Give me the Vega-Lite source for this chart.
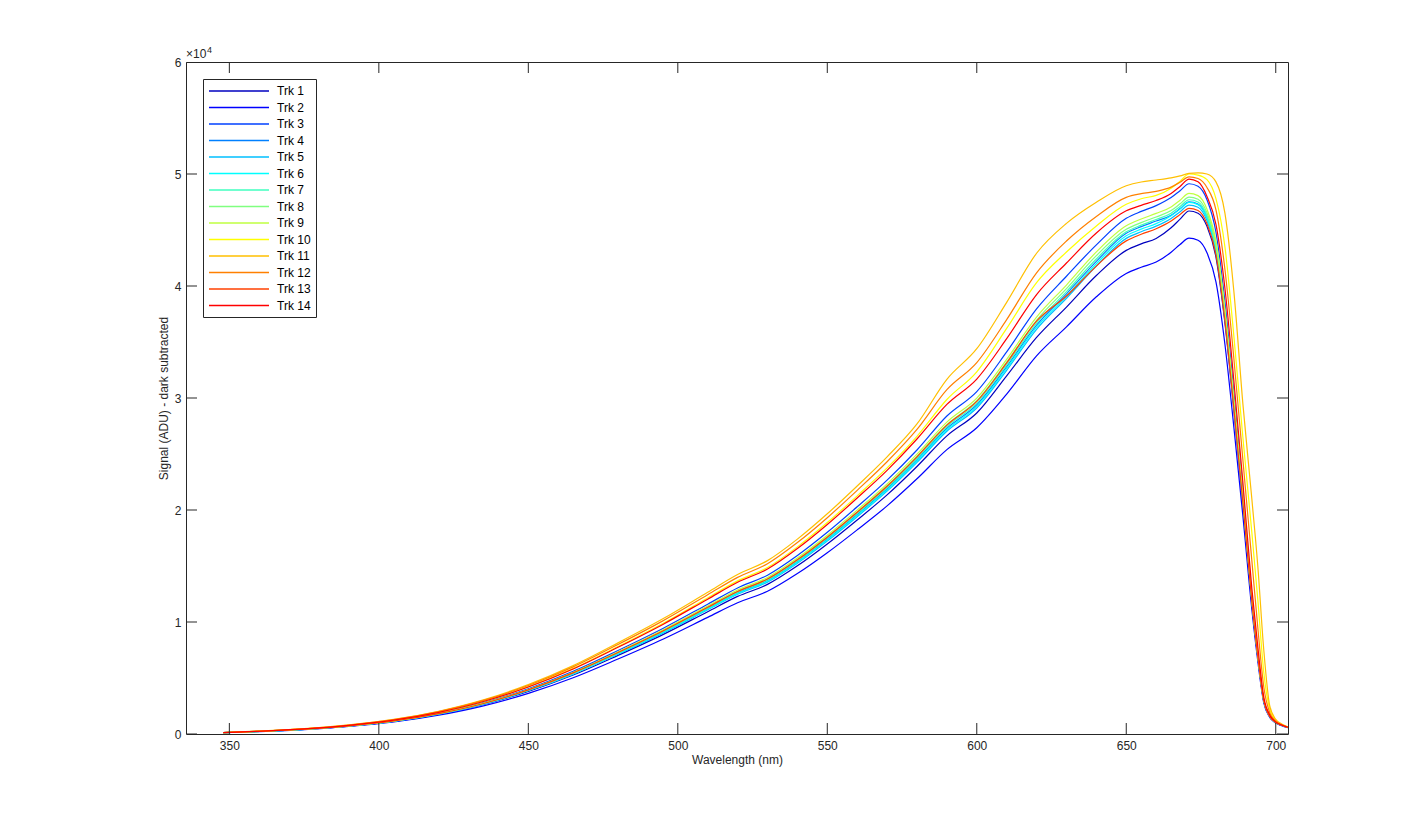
{
"$schema": "https://vega.github.io/schema/vega-lite/v6.json",
"width": 1102, "height": 672,
"autosize": {"type": "none"},
"padding": {"left": 186, "top": 62, "right": 137, "bottom": 91},
"background": "white",
"config": {
  "font": "Liberation Sans",
  "view": {"stroke": "#262626", "strokeWidth": 1},
  "axis": {"labelFont": "Liberation Sans", "titleFont": "Liberation Sans", "labelFontSize": 12, "titleFontSize": 12, "titleFontWeight": "normal", "labelColor": "#262626", "titleColor": "#262626", "grid": false, "domain": false, "ticks": false, "tickSize": 0}
},
"layer": [
{
"data": {"values": [
{"t":"Trk 1","w":348,"v":117},{"t":"Trk 1","w":360,"v":224},{"t":"Trk 1","w":375,"v":410},{"t":"Trk 1","w":390,"v":702},{"t":"Trk 1","w":405,"v":1121},{"t":"Trk 1","w":420,"v":1755},{"t":"Trk 1","w":435,"v":2633},{"t":"Trk 1","w":450,"v":3803},{"t":"Trk 1","w":465,"v":5265},{"t":"Trk 1","w":480,"v":7020},{"t":"Trk 1","w":495,"v":8873},{"t":"Trk 1","w":510,"v":10920},{"t":"Trk 1","w":520,"v":12285},{"t":"Trk 1","w":530,"v":13358},{"t":"Trk 1","w":540,"v":15015},{"t":"Trk 1","w":550,"v":16965},{"t":"Trk 1","w":560,"v":19110},{"t":"Trk 1","w":570,"v":21353},{"t":"Trk 1","w":580,"v":23888},{"t":"Trk 1","w":590,"v":26618},{"t":"Trk 1","w":600,"v":28665},{"t":"Trk 1","w":610,"v":31980},{"t":"Trk 1","w":620,"v":35405},{"t":"Trk 1","w":630,"v":38121},{"t":"Trk 1","w":640,"v":40934},{"t":"Trk 1","w":650,"v":43180},{"t":"Trk 1","w":655,"v":43760},{"t":"Trk 1","w":660,"v":44243},{"t":"Trk 1","w":665,"v":45198},{"t":"Trk 1","w":668,"v":45970},{"t":"Trk 1","w":671,"v":46698},{"t":"Trk 1","w":674,"v":46503},{"t":"Trk 1","w":677,"v":45328},{"t":"Trk 1","w":680,"v":42587},{"t":"Trk 1","w":683,"v":36713},{"t":"Trk 1","w":686,"v":28881},{"t":"Trk 1","w":689,"v":20559},{"t":"Trk 1","w":692,"v":11748},{"t":"Trk 1","w":694,"v":6853},{"t":"Trk 1","w":696,"v":2937},{"t":"Trk 1","w":698,"v":1566},{"t":"Trk 1","w":700,"v":1028},{"t":"Trk 1","w":702,"v":783},{"t":"Trk 1","w":704,"v":587},
{"t":"Trk 2","w":348,"v":112},{"t":"Trk 2","w":360,"v":214},{"t":"Trk 2","w":375,"v":391},{"t":"Trk 2","w":390,"v":670},{"t":"Trk 2","w":405,"v":1070},{"t":"Trk 2","w":420,"v":1674},{"t":"Trk 2","w":435,"v":2511},{"t":"Trk 2","w":450,"v":3627},{"t":"Trk 2","w":465,"v":5022},{"t":"Trk 2","w":480,"v":6696},{"t":"Trk 2","w":495,"v":8463},{"t":"Trk 2","w":510,"v":10416},{"t":"Trk 2","w":520,"v":11718},{"t":"Trk 2","w":530,"v":12741},{"t":"Trk 2","w":540,"v":14322},{"t":"Trk 2","w":550,"v":16182},{"t":"Trk 2","w":560,"v":18228},{"t":"Trk 2","w":570,"v":20367},{"t":"Trk 2","w":580,"v":22785},{"t":"Trk 2","w":590,"v":25389},{"t":"Trk 2","w":600,"v":27342},{"t":"Trk 2","w":610,"v":30340},{"t":"Trk 2","w":620,"v":33763},{"t":"Trk 2","w":630,"v":36353},{"t":"Trk 2","w":640,"v":39035},{"t":"Trk 2","w":650,"v":41124},{"t":"Trk 2","w":655,"v":41676},{"t":"Trk 2","w":660,"v":42136},{"t":"Trk 2","w":665,"v":43013},{"t":"Trk 2","w":668,"v":43709},{"t":"Trk 2","w":671,"v":44266},{"t":"Trk 2","w":674,"v":44080},{"t":"Trk 2","w":677,"v":42966},{"t":"Trk 2","w":680,"v":40368},{"t":"Trk 2","w":683,"v":34800},{"t":"Trk 2","w":686,"v":27376},{"t":"Trk 2","w":689,"v":19488},{"t":"Trk 2","w":692,"v":11136},{"t":"Trk 2","w":694,"v":6496},{"t":"Trk 2","w":696,"v":2784},{"t":"Trk 2","w":698,"v":1485},{"t":"Trk 2","w":700,"v":974},{"t":"Trk 2","w":702,"v":742},{"t":"Trk 2","w":704,"v":557},
{"t":"Trk 3","w":348,"v":124},{"t":"Trk 3","w":360,"v":238},{"t":"Trk 3","w":375,"v":435},{"t":"Trk 3","w":390,"v":745},{"t":"Trk 3","w":405,"v":1190},{"t":"Trk 3","w":420,"v":1863},{"t":"Trk 3","w":435,"v":2795},{"t":"Trk 3","w":450,"v":4037},{"t":"Trk 3","w":465,"v":5589},{"t":"Trk 3","w":480,"v":7452},{"t":"Trk 3","w":495,"v":9419},{"t":"Trk 3","w":510,"v":11592},{"t":"Trk 3","w":520,"v":13041},{"t":"Trk 3","w":530,"v":14180},{"t":"Trk 3","w":540,"v":15939},{"t":"Trk 3","w":550,"v":18009},{"t":"Trk 3","w":560,"v":20286},{"t":"Trk 3","w":570,"v":22667},{"t":"Trk 3","w":580,"v":25358},{"t":"Trk 3","w":590,"v":28392},{"t":"Trk 3","w":600,"v":30576},{"t":"Trk 3","w":610,"v":34112},{"t":"Trk 3","w":620,"v":37960},{"t":"Trk 3","w":630,"v":40872},{"t":"Trk 3","w":640,"v":43677},{"t":"Trk 3","w":650,"v":46041},{"t":"Trk 3","w":655,"v":46659},{"t":"Trk 3","w":660,"v":47174},{"t":"Trk 3","w":665,"v":47895},{"t":"Trk 3","w":668,"v":48513},{"t":"Trk 3","w":671,"v":49130},{"t":"Trk 3","w":674,"v":48900},{"t":"Trk 3","w":677,"v":47700},{"t":"Trk 3","w":680,"v":44800},{"t":"Trk 3","w":683,"v":38600},{"t":"Trk 3","w":686,"v":30400},{"t":"Trk 3","w":689,"v":21600},{"t":"Trk 3","w":692,"v":12300},{"t":"Trk 3","w":694,"v":7100},{"t":"Trk 3","w":696,"v":3000},{"t":"Trk 3","w":698,"v":1600},{"t":"Trk 3","w":700,"v":1050},{"t":"Trk 3","w":702,"v":800},{"t":"Trk 3","w":704,"v":600},
{"t":"Trk 4","w":348,"v":120},{"t":"Trk 4","w":360,"v":230},{"t":"Trk 4","w":375,"v":420},{"t":"Trk 4","w":390,"v":720},{"t":"Trk 4","w":405,"v":1150},{"t":"Trk 4","w":420,"v":1800},{"t":"Trk 4","w":435,"v":2700},{"t":"Trk 4","w":450,"v":3900},{"t":"Trk 4","w":465,"v":5400},{"t":"Trk 4","w":480,"v":7200},{"t":"Trk 4","w":495,"v":9100},{"t":"Trk 4","w":510,"v":11200},{"t":"Trk 4","w":520,"v":12600},{"t":"Trk 4","w":530,"v":13700},{"t":"Trk 4","w":540,"v":15400},{"t":"Trk 4","w":550,"v":17400},{"t":"Trk 4","w":560,"v":19600},{"t":"Trk 4","w":570,"v":21900},{"t":"Trk 4","w":580,"v":24500},{"t":"Trk 4","w":590,"v":27300},{"t":"Trk 4","w":600,"v":29400},{"t":"Trk 4","w":610,"v":32800},{"t":"Trk 4","w":620,"v":36500},{"t":"Trk 4","w":630,"v":39300},{"t":"Trk 4","w":640,"v":42200},{"t":"Trk 4","w":650,"v":44700},{"t":"Trk 4","w":655,"v":45300},{"t":"Trk 4","w":660,"v":45800},{"t":"Trk 4","w":665,"v":46314},{"t":"Trk 4","w":668,"v":46912},{"t":"Trk 4","w":671,"v":47509},{"t":"Trk 4","w":674,"v":47310},{"t":"Trk 4","w":677,"v":46115},{"t":"Trk 4","w":680,"v":43326},{"t":"Trk 4","w":683,"v":37350},{"t":"Trk 4","w":686,"v":29382},{"t":"Trk 4","w":689,"v":20916},{"t":"Trk 4","w":692,"v":11952},{"t":"Trk 4","w":694,"v":6972},{"t":"Trk 4","w":696,"v":2988},{"t":"Trk 4","w":698,"v":1594},{"t":"Trk 4","w":700,"v":1046},{"t":"Trk 4","w":702,"v":797},{"t":"Trk 4","w":704,"v":598},
{"t":"Trk 5","w":348,"v":119},{"t":"Trk 5","w":360,"v":228},{"t":"Trk 5","w":375,"v":416},{"t":"Trk 5","w":390,"v":713},{"t":"Trk 5","w":405,"v":1139},{"t":"Trk 5","w":420,"v":1782},{"t":"Trk 5","w":435,"v":2673},{"t":"Trk 5","w":450,"v":3861},{"t":"Trk 5","w":465,"v":5346},{"t":"Trk 5","w":480,"v":7128},{"t":"Trk 5","w":495,"v":9009},{"t":"Trk 5","w":510,"v":11088},{"t":"Trk 5","w":520,"v":12474},{"t":"Trk 5","w":530,"v":13563},{"t":"Trk 5","w":540,"v":15246},{"t":"Trk 5","w":550,"v":17226},{"t":"Trk 5","w":560,"v":19404},{"t":"Trk 5","w":570,"v":21681},{"t":"Trk 5","w":580,"v":24255},{"t":"Trk 5","w":590,"v":27027},{"t":"Trk 5","w":600,"v":29106},{"t":"Trk 5","w":610,"v":32472},{"t":"Trk 5","w":620,"v":36135},{"t":"Trk 5","w":630,"v":38907},{"t":"Trk 5","w":640,"v":41778},{"t":"Trk 5","w":650,"v":44253},{"t":"Trk 5","w":655,"v":44847},{"t":"Trk 5","w":660,"v":45342},{"t":"Trk 5","w":665,"v":46035},{"t":"Trk 5","w":668,"v":46629},{"t":"Trk 5","w":671,"v":47223},{"t":"Trk 5","w":674,"v":47025},{"t":"Trk 5","w":677,"v":45837},{"t":"Trk 5","w":680,"v":43065},{"t":"Trk 5","w":683,"v":37125},{"t":"Trk 5","w":686,"v":29205},{"t":"Trk 5","w":689,"v":20790},{"t":"Trk 5","w":692,"v":11880},{"t":"Trk 5","w":694,"v":6930},{"t":"Trk 5","w":696,"v":2970},{"t":"Trk 5","w":698,"v":1584},{"t":"Trk 5","w":700,"v":1040},{"t":"Trk 5","w":702,"v":792},{"t":"Trk 5","w":704,"v":594},
{"t":"Trk 6","w":348,"v":119},{"t":"Trk 6","w":360,"v":229},{"t":"Trk 6","w":375,"v":418},{"t":"Trk 6","w":390,"v":716},{"t":"Trk 6","w":405,"v":1144},{"t":"Trk 6","w":420,"v":1791},{"t":"Trk 6","w":435,"v":2687},{"t":"Trk 6","w":450,"v":3881},{"t":"Trk 6","w":465,"v":5373},{"t":"Trk 6","w":480,"v":7164},{"t":"Trk 6","w":495,"v":9055},{"t":"Trk 6","w":510,"v":11144},{"t":"Trk 6","w":520,"v":12537},{"t":"Trk 6","w":530,"v":13632},{"t":"Trk 6","w":540,"v":15323},{"t":"Trk 6","w":550,"v":17313},{"t":"Trk 6","w":560,"v":19502},{"t":"Trk 6","w":570,"v":21791},{"t":"Trk 6","w":580,"v":24378},{"t":"Trk 6","w":590,"v":27164},{"t":"Trk 6","w":600,"v":29253},{"t":"Trk 6","w":610,"v":32636},{"t":"Trk 6","w":620,"v":36318},{"t":"Trk 6","w":630,"v":39104},{"t":"Trk 6","w":640,"v":41989},{"t":"Trk 6","w":650,"v":44477},{"t":"Trk 6","w":655,"v":45074},{"t":"Trk 6","w":660,"v":45571},{"t":"Trk 6","w":665,"v":46268},{"t":"Trk 6","w":668,"v":46865},{"t":"Trk 6","w":671,"v":47462},{"t":"Trk 6","w":674,"v":47263},{"t":"Trk 6","w":677,"v":46069},{"t":"Trk 6","w":680,"v":43283},{"t":"Trk 6","w":683,"v":37313},{"t":"Trk 6","w":686,"v":29353},{"t":"Trk 6","w":689,"v":20895},{"t":"Trk 6","w":692,"v":11940},{"t":"Trk 6","w":694,"v":6965},{"t":"Trk 6","w":696,"v":2985},{"t":"Trk 6","w":698,"v":1592},{"t":"Trk 6","w":700,"v":1045},{"t":"Trk 6","w":702,"v":796},{"t":"Trk 6","w":704,"v":597},
{"t":"Trk 7","w":348,"v":121},{"t":"Trk 7","w":360,"v":231},{"t":"Trk 7","w":375,"v":422},{"t":"Trk 7","w":390,"v":724},{"t":"Trk 7","w":405,"v":1156},{"t":"Trk 7","w":420,"v":1809},{"t":"Trk 7","w":435,"v":2714},{"t":"Trk 7","w":450,"v":3920},{"t":"Trk 7","w":465,"v":5427},{"t":"Trk 7","w":480,"v":7236},{"t":"Trk 7","w":495,"v":9146},{"t":"Trk 7","w":510,"v":11256},{"t":"Trk 7","w":520,"v":12663},{"t":"Trk 7","w":530,"v":13769},{"t":"Trk 7","w":540,"v":15477},{"t":"Trk 7","w":550,"v":17487},{"t":"Trk 7","w":560,"v":19698},{"t":"Trk 7","w":570,"v":22010},{"t":"Trk 7","w":580,"v":24623},{"t":"Trk 7","w":590,"v":27437},{"t":"Trk 7","w":600,"v":29547},{"t":"Trk 7","w":610,"v":32964},{"t":"Trk 7","w":620,"v":36683},{"t":"Trk 7","w":630,"v":39497},{"t":"Trk 7","w":640,"v":42411},{"t":"Trk 7","w":650,"v":44834},{"t":"Trk 7","w":655,"v":45436},{"t":"Trk 7","w":660,"v":45937},{"t":"Trk 7","w":665,"v":46500},{"t":"Trk 7","w":668,"v":47100},{"t":"Trk 7","w":671,"v":47700},{"t":"Trk 7","w":674,"v":47500},{"t":"Trk 7","w":677,"v":46300},{"t":"Trk 7","w":680,"v":43500},{"t":"Trk 7","w":683,"v":37500},{"t":"Trk 7","w":686,"v":29500},{"t":"Trk 7","w":689,"v":21000},{"t":"Trk 7","w":692,"v":12000},{"t":"Trk 7","w":694,"v":7000},{"t":"Trk 7","w":696,"v":3000},{"t":"Trk 7","w":698,"v":1600},{"t":"Trk 7","w":700,"v":1050},{"t":"Trk 7","w":702,"v":800},{"t":"Trk 7","w":704,"v":600},
{"t":"Trk 8","w":348,"v":121},{"t":"Trk 8","w":360,"v":233},{"t":"Trk 8","w":375,"v":425},{"t":"Trk 8","w":390,"v":729},{"t":"Trk 8","w":405,"v":1164},{"t":"Trk 8","w":420,"v":1822},{"t":"Trk 8","w":435,"v":2732},{"t":"Trk 8","w":450,"v":3947},{"t":"Trk 8","w":465,"v":5465},{"t":"Trk 8","w":480,"v":7286},{"t":"Trk 8","w":495,"v":9209},{"t":"Trk 8","w":510,"v":11334},{"t":"Trk 8","w":520,"v":12751},{"t":"Trk 8","w":530,"v":13864},{"t":"Trk 8","w":540,"v":15585},{"t":"Trk 8","w":550,"v":17609},{"t":"Trk 8","w":560,"v":19835},{"t":"Trk 8","w":570,"v":22163},{"t":"Trk 8","w":580,"v":24794},{"t":"Trk 8","w":590,"v":27628},{"t":"Trk 8","w":600,"v":29753},{"t":"Trk 8","w":610,"v":33194},{"t":"Trk 8","w":620,"v":36938},{"t":"Trk 8","w":630,"v":39772},{"t":"Trk 8","w":640,"v":42706},{"t":"Trk 8","w":650,"v":45058},{"t":"Trk 8","w":655,"v":45662},{"t":"Trk 8","w":660,"v":46166},{"t":"Trk 8","w":665,"v":46733},{"t":"Trk 8","w":668,"v":47336},{"t":"Trk 8","w":671,"v":47939},{"t":"Trk 8","w":674,"v":47738},{"t":"Trk 8","w":677,"v":46532},{"t":"Trk 8","w":680,"v":43718},{"t":"Trk 8","w":683,"v":37688},{"t":"Trk 8","w":686,"v":29648},{"t":"Trk 8","w":689,"v":21105},{"t":"Trk 8","w":692,"v":12060},{"t":"Trk 8","w":694,"v":7035},{"t":"Trk 8","w":696,"v":3015},{"t":"Trk 8","w":698,"v":1608},{"t":"Trk 8","w":700,"v":1055},{"t":"Trk 8","w":702,"v":804},{"t":"Trk 8","w":704,"v":603},
{"t":"Trk 9","w":348,"v":122},{"t":"Trk 9","w":360,"v":235},{"t":"Trk 9","w":375,"v":428},{"t":"Trk 9","w":390,"v":734},{"t":"Trk 9","w":405,"v":1173},{"t":"Trk 9","w":420,"v":1836},{"t":"Trk 9","w":435,"v":2754},{"t":"Trk 9","w":450,"v":3978},{"t":"Trk 9","w":465,"v":5508},{"t":"Trk 9","w":480,"v":7344},{"t":"Trk 9","w":495,"v":9282},{"t":"Trk 9","w":510,"v":11424},{"t":"Trk 9","w":520,"v":12852},{"t":"Trk 9","w":530,"v":13974},{"t":"Trk 9","w":540,"v":15708},{"t":"Trk 9","w":550,"v":17748},{"t":"Trk 9","w":560,"v":19992},{"t":"Trk 9","w":570,"v":22338},{"t":"Trk 9","w":580,"v":24990},{"t":"Trk 9","w":590,"v":27846},{"t":"Trk 9","w":600,"v":29988},{"t":"Trk 9","w":610,"v":33456},{"t":"Trk 9","w":620,"v":37230},{"t":"Trk 9","w":630,"v":40086},{"t":"Trk 9","w":640,"v":43044},{"t":"Trk 9","w":650,"v":45371},{"t":"Trk 9","w":655,"v":45980},{"t":"Trk 9","w":660,"v":46487},{"t":"Trk 9","w":665,"v":47058},{"t":"Trk 9","w":668,"v":47665},{"t":"Trk 9","w":671,"v":48272},{"t":"Trk 9","w":674,"v":48070},{"t":"Trk 9","w":677,"v":46856},{"t":"Trk 9","w":680,"v":44022},{"t":"Trk 9","w":683,"v":37950},{"t":"Trk 9","w":686,"v":29854},{"t":"Trk 9","w":689,"v":21252},{"t":"Trk 9","w":692,"v":12144},{"t":"Trk 9","w":694,"v":7084},{"t":"Trk 9","w":696,"v":3036},{"t":"Trk 9","w":698,"v":1619},{"t":"Trk 9","w":700,"v":1063},{"t":"Trk 9","w":702,"v":810},{"t":"Trk 9","w":704,"v":607},
{"t":"Trk 10","w":348,"v":130},{"t":"Trk 10","w":360,"v":250},{"t":"Trk 10","w":375,"v":456},{"t":"Trk 10","w":390,"v":781},{"t":"Trk 10","w":405,"v":1248},{"t":"Trk 10","w":420,"v":1953},{"t":"Trk 10","w":435,"v":2930},{"t":"Trk 10","w":450,"v":4232},{"t":"Trk 10","w":465,"v":5859},{"t":"Trk 10","w":480,"v":7812},{"t":"Trk 10","w":495,"v":9874},{"t":"Trk 10","w":510,"v":12152},{"t":"Trk 10","w":520,"v":13671},{"t":"Trk 10","w":530,"v":14865},{"t":"Trk 10","w":540,"v":16709},{"t":"Trk 10","w":550,"v":18879},{"t":"Trk 10","w":560,"v":21266},{"t":"Trk 10","w":570,"v":23762},{"t":"Trk 10","w":580,"v":26583},{"t":"Trk 10","w":590,"v":29866},{"t":"Trk 10","w":600,"v":32340},{"t":"Trk 10","w":610,"v":36211},{"t":"Trk 10","w":620,"v":40296},{"t":"Trk 10","w":630,"v":43034},{"t":"Trk 10","w":640,"v":45365},{"t":"Trk 10","w":650,"v":47293},{"t":"Trk 10","w":655,"v":47792},{"t":"Trk 10","w":660,"v":48090},{"t":"Trk 10","w":665,"v":48732},{"t":"Trk 10","w":668,"v":49361},{"t":"Trk 10","w":671,"v":50000},{"t":"Trk 10","w":674,"v":49900},{"t":"Trk 10","w":677,"v":49500},{"t":"Trk 10","w":680,"v":47800},{"t":"Trk 10","w":683,"v":43500},{"t":"Trk 10","w":686,"v":35500},{"t":"Trk 10","w":689,"v":26500},{"t":"Trk 10","w":692,"v":18000},{"t":"Trk 10","w":694,"v":12000},{"t":"Trk 10","w":696,"v":5500},{"t":"Trk 10","w":698,"v":2200},{"t":"Trk 10","w":700,"v":1200},{"t":"Trk 10","w":702,"v":850},{"t":"Trk 10","w":704,"v":620},
{"t":"Trk 11","w":348,"v":136},{"t":"Trk 11","w":360,"v":260},{"t":"Trk 11","w":375,"v":475},{"t":"Trk 11","w":390,"v":814},{"t":"Trk 11","w":405,"v":1300},{"t":"Trk 11","w":420,"v":2034},{"t":"Trk 11","w":435,"v":3051},{"t":"Trk 11","w":450,"v":4407},{"t":"Trk 11","w":465,"v":6102},{"t":"Trk 11","w":480,"v":8136},{"t":"Trk 11","w":495,"v":10283},{"t":"Trk 11","w":510,"v":12656},{"t":"Trk 11","w":520,"v":14238},{"t":"Trk 11","w":530,"v":15481},{"t":"Trk 11","w":540,"v":17402},{"t":"Trk 11","w":550,"v":19662},{"t":"Trk 11","w":560,"v":22148},{"t":"Trk 11","w":570,"v":24747},{"t":"Trk 11","w":580,"v":27685},{"t":"Trk 11","w":590,"v":31668},{"t":"Trk 11","w":600,"v":34398},{"t":"Trk 11","w":610,"v":38540},{"t":"Trk 11","w":620,"v":42924},{"t":"Trk 11","w":630,"v":45588},{"t":"Trk 11","w":640,"v":47475},{"t":"Trk 11","w":650,"v":48947},{"t":"Trk 11","w":655,"v":49286},{"t":"Trk 11","w":660,"v":49464},{"t":"Trk 11","w":665,"v":49662},{"t":"Trk 11","w":668,"v":49832},{"t":"Trk 11","w":671,"v":50050},{"t":"Trk 11","w":674,"v":50100},{"t":"Trk 11","w":677,"v":50000},{"t":"Trk 11","w":680,"v":49300},{"t":"Trk 11","w":683,"v":46500},{"t":"Trk 11","w":686,"v":39500},{"t":"Trk 11","w":689,"v":29500},{"t":"Trk 11","w":692,"v":21000},{"t":"Trk 11","w":694,"v":15000},{"t":"Trk 11","w":696,"v":7500},{"t":"Trk 11","w":698,"v":2500},{"t":"Trk 11","w":700,"v":1300},{"t":"Trk 11","w":702,"v":900},{"t":"Trk 11","w":704,"v":650},
{"t":"Trk 12","w":348,"v":133},{"t":"Trk 12","w":360,"v":255},{"t":"Trk 12","w":375,"v":466},{"t":"Trk 12","w":390,"v":799},{"t":"Trk 12","w":405,"v":1277},{"t":"Trk 12","w":420,"v":1998},{"t":"Trk 12","w":435,"v":2997},{"t":"Trk 12","w":450,"v":4329},{"t":"Trk 12","w":465,"v":5994},{"t":"Trk 12","w":480,"v":7992},{"t":"Trk 12","w":495,"v":10101},{"t":"Trk 12","w":510,"v":12432},{"t":"Trk 12","w":520,"v":13986},{"t":"Trk 12","w":530,"v":15207},{"t":"Trk 12","w":540,"v":17094},{"t":"Trk 12","w":550,"v":19314},{"t":"Trk 12","w":560,"v":21756},{"t":"Trk 12","w":570,"v":24309},{"t":"Trk 12","w":580,"v":27195},{"t":"Trk 12","w":590,"v":30740},{"t":"Trk 12","w":600,"v":33163},{"t":"Trk 12","w":610,"v":36998},{"t":"Trk 12","w":620,"v":41172},{"t":"Trk 12","w":630,"v":44016},{"t":"Trk 12","w":640,"v":46209},{"t":"Trk 12","w":650,"v":47918},{"t":"Trk 12","w":655,"v":48245},{"t":"Trk 12","w":660,"v":48456},{"t":"Trk 12","w":665,"v":48825},{"t":"Trk 12","w":668,"v":49267},{"t":"Trk 12","w":671,"v":49750},{"t":"Trk 12","w":674,"v":49600},{"t":"Trk 12","w":677,"v":48800},{"t":"Trk 12","w":680,"v":46800},{"t":"Trk 12","w":683,"v":41500},{"t":"Trk 12","w":686,"v":33500},{"t":"Trk 12","w":689,"v":24500},{"t":"Trk 12","w":692,"v":15500},{"t":"Trk 12","w":694,"v":9500},{"t":"Trk 12","w":696,"v":4200},{"t":"Trk 12","w":698,"v":1900},{"t":"Trk 12","w":700,"v":1150},{"t":"Trk 12","w":702,"v":820},{"t":"Trk 12","w":704,"v":610},
{"t":"Trk 13","w":348,"v":121},{"t":"Trk 13","w":360,"v":232},{"t":"Trk 13","w":375,"v":424},{"t":"Trk 13","w":390,"v":727},{"t":"Trk 13","w":405,"v":1162},{"t":"Trk 13","w":420,"v":1818},{"t":"Trk 13","w":435,"v":2727},{"t":"Trk 13","w":450,"v":3939},{"t":"Trk 13","w":465,"v":5454},{"t":"Trk 13","w":480,"v":7272},{"t":"Trk 13","w":495,"v":9191},{"t":"Trk 13","w":510,"v":11312},{"t":"Trk 13","w":520,"v":12726},{"t":"Trk 13","w":530,"v":13837},{"t":"Trk 13","w":540,"v":15554},{"t":"Trk 13","w":550,"v":17574},{"t":"Trk 13","w":560,"v":19796},{"t":"Trk 13","w":570,"v":22119},{"t":"Trk 13","w":580,"v":24745},{"t":"Trk 13","w":590,"v":27573},{"t":"Trk 13","w":600,"v":29694},{"t":"Trk 13","w":610,"v":33128},{"t":"Trk 13","w":620,"v":36865},{"t":"Trk 13","w":630,"v":39104},{"t":"Trk 13","w":640,"v":41778},{"t":"Trk 13","w":650,"v":44030},{"t":"Trk 13","w":655,"v":44621},{"t":"Trk 13","w":660,"v":45113},{"t":"Trk 13","w":665,"v":45803},{"t":"Trk 13","w":668,"v":46394},{"t":"Trk 13","w":671,"v":46937},{"t":"Trk 13","w":674,"v":46740},{"t":"Trk 13","w":677,"v":45559},{"t":"Trk 13","w":680,"v":42804},{"t":"Trk 13","w":683,"v":36900},{"t":"Trk 13","w":686,"v":29028},{"t":"Trk 13","w":689,"v":20664},{"t":"Trk 13","w":692,"v":11808},{"t":"Trk 13","w":694,"v":6888},{"t":"Trk 13","w":696,"v":2952},{"t":"Trk 13","w":698,"v":1574},{"t":"Trk 13","w":700,"v":1033},{"t":"Trk 13","w":702,"v":787},{"t":"Trk 13","w":704,"v":590},
{"t":"Trk 14","w":348,"v":129},{"t":"Trk 14","w":360,"v":247},{"t":"Trk 14","w":375,"v":452},{"t":"Trk 14","w":390,"v":774},{"t":"Trk 14","w":405,"v":1236},{"t":"Trk 14","w":420,"v":1935},{"t":"Trk 14","w":435,"v":2903},{"t":"Trk 14","w":450,"v":4193},{"t":"Trk 14","w":465,"v":5805},{"t":"Trk 14","w":480,"v":7740},{"t":"Trk 14","w":495,"v":9783},{"t":"Trk 14","w":510,"v":12040},{"t":"Trk 14","w":520,"v":13545},{"t":"Trk 14","w":530,"v":14728},{"t":"Trk 14","w":540,"v":16555},{"t":"Trk 14","w":550,"v":18705},{"t":"Trk 14","w":560,"v":21070},{"t":"Trk 14","w":570,"v":23543},{"t":"Trk 14","w":580,"v":26338},{"t":"Trk 14","w":590,"v":29429},{"t":"Trk 14","w":600,"v":31693},{"t":"Trk 14","w":610,"v":35293},{"t":"Trk 14","w":620,"v":39238},{"t":"Trk 14","w":630,"v":42051},{"t":"Trk 14","w":640,"v":44732},{"t":"Trk 14","w":650,"v":46712},{"t":"Trk 14","w":655,"v":47203},{"t":"Trk 14","w":660,"v":47632},{"t":"Trk 14","w":665,"v":48267},{"t":"Trk 14","w":668,"v":48890},{"t":"Trk 14","w":671,"v":49550},{"t":"Trk 14","w":674,"v":49300},{"t":"Trk 14","w":677,"v":48000},{"t":"Trk 14","w":680,"v":45500},{"t":"Trk 14","w":683,"v":39800},{"t":"Trk 14","w":686,"v":31500},{"t":"Trk 14","w":689,"v":22500},{"t":"Trk 14","w":692,"v":13000},{"t":"Trk 14","w":694,"v":7800},{"t":"Trk 14","w":696,"v":3300},{"t":"Trk 14","w":698,"v":1700},{"t":"Trk 14","w":700,"v":1080},{"t":"Trk 14","w":702,"v":800},{"t":"Trk 14","w":704,"v":600}
]},
"mark": {"type": "line", "strokeWidth": 1.2, "clip": true, "interpolate": "monotone"},
"encoding": {
  "x": {"field": "w", "type": "quantitative", "scale": {"domain": [335.5, 704.1], "nice": false, "zero": false},
        "axis": {"orient": "bottom", "values": [350, 400, 450, 500, 550, 600, 650, 700], "labelPadding": 6, "title": "Wavelength (nm)", "titlePadding": 3}},
  "y": {"field": "v", "type": "quantitative", "scale": {"domain": [0, 60000], "nice": false, "zero": false},
        "axis": {"orient": "left", "values": [0, 10000, 20000, 30000, 40000, 50000, 60000], "labelExpr": "datum.value / 10000", "labelPadding": 5, "title": "Signal (ADU) - dark subtracted", "titlePadding": 4}},
  "color": {"field": "t", "type": "nominal",
    "scale": {"domain": ["Trk 1","Trk 2","Trk 3","Trk 4","Trk 5","Trk 6","Trk 7","Trk 8","Trk 9","Trk 10","Trk 11","Trk 12","Trk 13","Trk 14"],
              "range": ["#0000BF","#0000FF","#0040FF","#0080FF","#00BFFF","#00FFFF","#40FFBF","#80FF80","#BFFF40","#FFFF00","#FFBF00","#FF8000","#FF4000","#FF0000"]},
    "legend": {"title": null, "orient": "top-left", "offset": 17, "padding": 5, "strokeColor": "#262626", "fillColor": "white",
               "symbolType": "M-1,0H9", "symbolSize": 144, "symbolStrokeWidth": 1.5, "labelFont": "Liberation Sans", "labelFontSize": 12, "labelColor": "#000000", "labelOffset": 55, "rowPadding": 3.5}}
}
},
{
"data": {"values": [{"w": 350, "v": 0}, {"w": 400, "v": 0}, {"w": 450, "v": 0}, {"w": 500, "v": 0}, {"w": 550, "v": 0}, {"w": 600, "v": 0}, {"w": 650, "v": 0}, {"w": 700, "v": 0},
  {"w": 350, "v": 60000}, {"w": 400, "v": 60000}, {"w": 450, "v": 60000}, {"w": 500, "v": 60000}, {"w": 550, "v": 60000}, {"w": 600, "v": 60000}, {"w": 650, "v": 60000}, {"w": 700, "v": 60000}]},
"mark": {"type": "tick", "orient": "vertical", "size": 22, "thickness": 1, "color": "#262626", "opacity": 1, "clip": true},
"encoding": {
  "x": {"field": "w", "type": "quantitative", "scale": {"domain": [335.5, 704.1], "nice": false, "zero": false}},
  "y": {"field": "v", "type": "quantitative", "scale": {"domain": [0, 60000], "nice": false, "zero": false}}
}
},
{
"data": {"values": [{"w": 335.5, "v": 0}, {"w": 335.5, "v": 10000}, {"w": 335.5, "v": 20000}, {"w": 335.5, "v": 30000}, {"w": 335.5, "v": 40000}, {"w": 335.5, "v": 50000}, {"w": 335.5, "v": 60000},
  {"w": 704.1, "v": 0}, {"w": 704.1, "v": 10000}, {"w": 704.1, "v": 20000}, {"w": 704.1, "v": 30000}, {"w": 704.1, "v": 40000}, {"w": 704.1, "v": 50000}, {"w": 704.1, "v": 60000}]},
"mark": {"type": "tick", "orient": "horizontal", "size": 22, "thickness": 1, "color": "#262626", "opacity": 1, "clip": true},
"encoding": {
  "x": {"field": "w", "type": "quantitative", "scale": {"domain": [335.5, 704.1], "nice": false, "zero": false}},
  "y": {"field": "v", "type": "quantitative", "scale": {"domain": [0, 60000], "nice": false, "zero": false}}
}
},
{
"data": {"values": [{"w": 335.5, "v": 60000, "label": "×10"}]},
"mark": {"type": "text", "align": "left", "baseline": "alphabetic", "dy": -4, "font": "Liberation Sans", "fontSize": 12, "color": "#262626"},
"encoding": {
  "x": {"field": "w", "type": "quantitative", "scale": {"domain": [335.5, 704.1], "nice": false, "zero": false}},
  "y": {"field": "v", "type": "quantitative", "scale": {"domain": [0, 60000], "nice": false, "zero": false}},
  "text": {"field": "label"}
}
},
{
"data": {"values": [{"w": 335.5, "v": 60000, "label": "4"}]},
"mark": {"type": "text", "align": "left", "baseline": "alphabetic", "dx": 21, "dy": -9, "font": "Liberation Sans", "fontSize": 9, "color": "#262626"},
"encoding": {
  "x": {"field": "w", "type": "quantitative", "scale": {"domain": [335.5, 704.1], "nice": false, "zero": false}},
  "y": {"field": "v", "type": "quantitative", "scale": {"domain": [0, 60000], "nice": false, "zero": false}},
  "text": {"field": "label"}
}
}
]
}
